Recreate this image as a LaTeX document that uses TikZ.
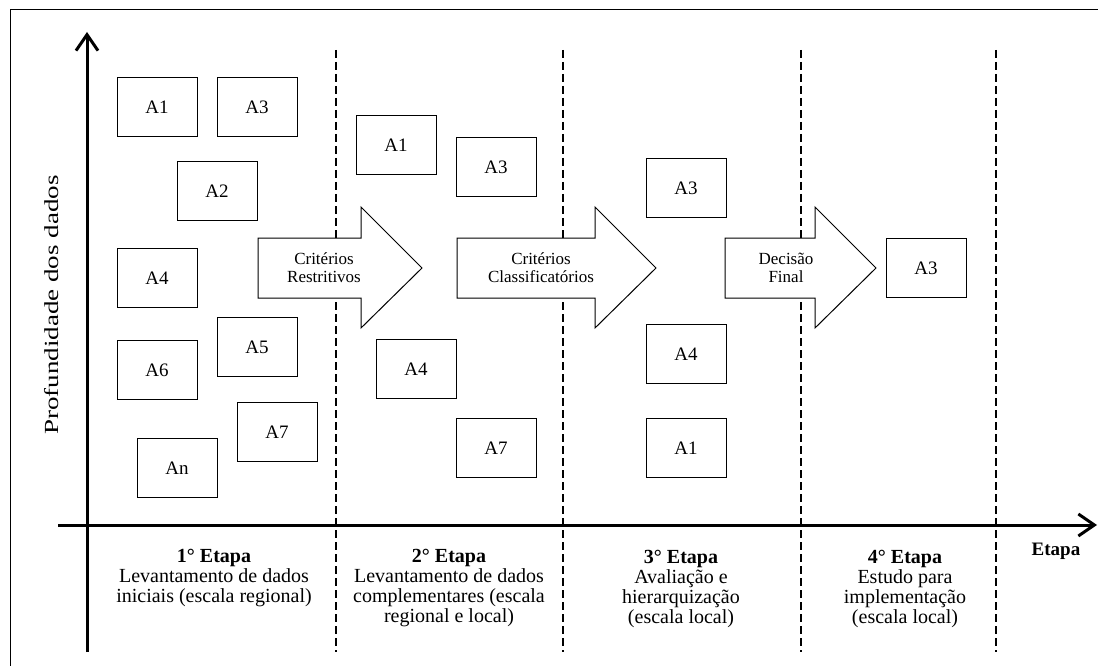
\documentclass[tikz,border=0pt]{standalone}
\usepackage{fontspec}
\usepackage{graphicx}
\setmainfont{Liberation Serif}
\usetikzlibrary{arrows.meta}
\begin{document}
\begin{tikzpicture}[x=1pt,y=-1pt,
  abox/.style={draw, line width=1pt, minimum width=80pt, minimum height=59pt, inner sep=0pt, font=\fontsize{19}{20}\selectfont},
  axis/.style={line width=3pt, -{Straight Barb[length=16pt,width=22pt]}},
  divider/.style={line width=1.3pt, dash pattern=on 8pt off 4pt},
  bigarrow/.style={draw, fill=white, line width=1pt},
  arrowtext/.style={align=center, font=\fontsize{17}{18}\selectfont, inner sep=0pt},
  stagetext/.style={align=center, anchor=north, font=\fontsize{20}{20}\selectfont, inner sep=0pt},
]
\useasboundingbox (0,0) rectangle (1098,666);
\draw[line width=1pt] (10,666) -- (10,10) -- (1098,10);

% dividers
\foreach \x in {336,563,801,996} \draw[divider] (\x,50) -- (\x,652);

% axes
\coordinate (ybot) at (87,652);
\coordinate (ytip) at (87,32);
\coordinate (xleft) at (58,525);
\coordinate (xtip) at (1097,525);
\draw[axis] (ybot) -- (ytip);
\draw[axis] (xleft) -- (xtip);

% big arrows
\draw[bigarrow] (258,238) -- (361,238) -- (361,207) -- (422,268) -- (361,328) -- (361,298) -- (258,298) -- cycle;
\node[arrowtext] (t1) at (324,268) {Critérios\\Restritivos};
\draw[bigarrow] (457,238) -- (595,238) -- (595,207) -- (656,268) -- (595,328) -- (595,298) -- (457,298) -- cycle;
\node[arrowtext] (t2) at (541,268) {Critérios\\Classificatórios};
\draw[bigarrow] (725,238) -- (815,238) -- (815,207) -- (876,268) -- (815,328) -- (815,298) -- (725,298) -- cycle;
\node[arrowtext] (t3) at (786,268) {Decisão\\Final};

% stage 1 boxes
\node[abox] (s1a1) at (157,107) {A1};
\node[abox] (s1a3) at (257,107) {A3};
\node[abox] (s1a2) at (217,191) {A2};
\node[abox] (s1a4) at (157,278) {A4};
\node[abox] (s1a5) at (257,347) {A5};
\node[abox] (s1a6) at (157,370) {A6};
\node[abox] (s1a7) at (277,432) {A7};
\node[abox] (s1an) at (177,468) {An};
% stage 2 boxes
\node[abox] (s2a1) at (396,145) {A1};
\node[abox] (s2a3) at (496,167) {A3};
\node[abox] (s2a4) at (416,369) {A4};
\node[abox] (s2a7) at (496,448) {A7};
% stage 3 boxes
\node[abox] (s3a3) at (686,188) {A3};
\node[abox] (s3a4) at (686,354) {A4};
\node[abox] (s3a1) at (686,448) {A1};
% stage 4 box
\node[abox] (s4a3) at (926,268) {A3};

% labels
\node[rotate=90, inner sep=0pt, font=\fontsize{20}{20}\selectfont] (ylab) at (52,305) {\scalebox{1.35}[1]{Profundidade dos dados}};
\node[inner sep=0pt, font=\bfseries\fontsize{19}{20}\selectfont] (etapa) at (1056,551) {Etapa};

\node[stagetext] (e1) at (214,549) {\textbf{1° Etapa}\\Levantamento de dados\\iniciais (escala regional)};
\node[stagetext] (e2) at (449,549) {\textbf{2° Etapa}\\Levantamento de dados\\complementares (escala\\regional e local)};
\node[stagetext] (e3) at (681,550) {\textbf{3° Etapa}\\Avaliação e\\hierarquização\\(escala local)};
\node[stagetext] (e4) at (905,550) {\textbf{4° Etapa}\\Estudo para\\implementação\\(escala local)};
\end{tikzpicture}
\end{document}
